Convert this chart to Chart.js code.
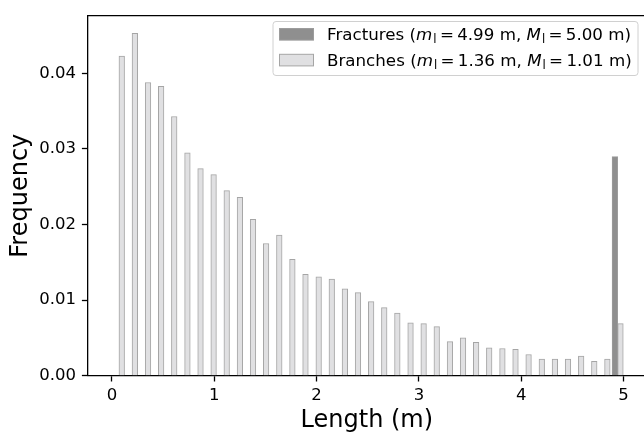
<!DOCTYPE html>
<html>
<head>
<meta charset="utf-8">
<script src="https://cdn.jsdelivr.net/npm/chart.js@4.4.1/dist/chart.umd.min.js"></script>
<style>
  html, body { margin: 0; padding: 0; overflow: hidden; background: #fff; }
  #wrap { width: 650px; height: 433px; }
</style>
</head>
<body>
<div id="wrap"><canvas id="histChart" width="650" height="433"></canvas></div>
<script>
// bin centres of the length histogram (m)
const binCenters = [0.068, 0.196, 0.325, 0.453, 0.581, 0.710, 0.838, 0.966, 1.094, 1.223,
  1.351, 1.479, 1.608, 1.736, 1.864, 1.993, 2.121, 2.249, 2.377, 2.506,
  2.634, 2.762, 2.891, 3.019, 3.147, 3.276, 3.404, 3.532, 3.660, 3.789,
  3.917, 4.045, 4.174, 4.302, 4.430, 4.559, 4.687, 4.815, 4.943];

const fractureFreq = [0, 0, 0, 0, 0, 0, 0, 0, 0, 0,
  0, 0, 0, 0, 0, 0, 0, 0, 0, 0,
  0, 0, 0, 0, 0, 0, 0, 0, 0, 0,
  0, 0, 0, 0, 0, 0, 0, 0, 0.0290];

const branchFreq = [0.0423, 0.0453, 0.0388, 0.0383, 0.0343, 0.0295, 0.0274, 0.0266, 0.0245, 0.0236,
  0.0207, 0.0175, 0.0186, 0.0154, 0.0134, 0.0131, 0.0128, 0.0115, 0.0110, 0.0098,
  0.0090, 0.0083, 0.0070, 0.0069, 0.0065, 0.0045, 0.0050, 0.0044, 0.0037, 0.0036,
  0.0035, 0.0028, 0.0022, 0.0022, 0.0022, 0.0026, 0.0019, 0.0022, 0.0069];

const xTicks = [0, 1, 2, 3, 4, 5];
const yTicks = [0, 0.01, 0.02, 0.03, 0.04];

const legendRows = [
  { name: 'Fractures', mean: '4.99', median: '5.00', fill: '#8f8f8f', edge: '#9c9c9c' },
  { name: 'Branches', mean: '1.36', median: '1.01', fill: '#e0e0e2', edge: '#a5a5a5' }
];

const FONT = '"DejaVu Sans", sans-serif';

function toPoints(values) {
  return binCenters.map((x, i) => ({ x: x, y: values[i] }));
}

// legend text with italic m / M and an upright subscript l, like mathtext
function drawLegendText(ctx, x, y, row) {
  const fs = 16.7;
  const reg = fs + 'px ' + FONT;
  const ital = 'italic ' + fs + 'px ' + FONT;
  const small = (fs * 0.7) + 'px ' + FONT;
  const gap = fs * 0.2;
  const parts = [
    { t: row.name + ' (', f: reg },
    { t: 'm', f: ital },
    { t: 'l', f: small, dy: 3, pre: 1 },
    { t: '=', f: reg, pre: gap },
    { t: row.mean, f: reg, pre: gap },
    { t: ' m, ', f: reg },
    { t: 'M', f: ital },
    { t: 'l', f: small, dy: 3, pre: 1 },
    { t: '=', f: reg, pre: gap },
    { t: row.median, f: reg, pre: gap },
    { t: ' m)', f: reg }
  ];
  ctx.fillStyle = '#000';
  ctx.textBaseline = 'alphabetic';
  ctx.textAlign = 'left';
  let cx = x;
  parts.forEach(p => {
    cx += p.pre || 0;
    ctx.font = p.f;
    ctx.fillText(p.t, cx, y + (p.dy || 0));
    cx += ctx.measureText(p.t).width;
  });
}

const framePlugin = {
  id: 'frame',
  afterDraw(chart) {
    const { ctx, chartArea: a } = chart;
    ctx.save();
    ctx.strokeStyle = '#000';
    ctx.lineWidth = 1.3;
    ctx.beginPath();
    ctx.moveTo(a.left, a.top);
    ctx.lineTo(a.right, a.top);
    ctx.lineTo(a.right, a.bottom);
    ctx.stroke();

    // legend box
    const bx = 273, by = 21.5, bw = 365, bh = 54;
    ctx.beginPath();
    ctx.roundRect(bx, by, bw, bh, 3);
    ctx.fillStyle = 'rgba(255,255,255,0.8)';
    ctx.fill();
    ctx.strokeStyle = '#d0d0d0';
    ctx.lineWidth = 1;
    ctx.stroke();

    legendRows.forEach((row, i) => {
      const cy = 34.3 + i * 25.8;
      ctx.fillStyle = row.fill;
      ctx.fillRect(279.5, cy - 5.8, 34, 11.6);
      ctx.strokeStyle = row.edge;
      ctx.lineWidth = 1;
      ctx.strokeRect(279.5, cy - 5.8, 34, 11.6);
      drawLegendText(ctx, 327, cy + 6, row);
    });
    ctx.restore();
  }
};

new Chart(document.getElementById('histChart'), {
  type: 'bar',
  data: {
    datasets: [
      {
        label: 'Fractures',
        data: toPoints(fractureFreq),
        backgroundColor: legendRows[0].fill,
        borderColor: legendRows[0].edge,
        borderWidth: 1,
        barThickness: 5.6
      },
      {
        label: 'Branches',
        data: toPoints(branchFreq),
        backgroundColor: legendRows[1].fill,
        borderColor: legendRows[1].edge,
        borderWidth: 1,
        barThickness: 5.6
      }
    ]
  },
  options: {
    responsive: false,
    animation: false,
    layout: { padding: { top: 11.7, right: 4, left: 0, bottom: 0 } },
    plugins: {
      legend: { display: false },
      tooltip: { enabled: false }
    },
    scales: {
      x: {
        type: 'linear',
        offset: false,
        min: -0.2375,
        max: 5.22,
        afterBuildTicks: axis => { axis.ticks = xTicks.map(v => ({ value: v })); },
        afterFit: axis => { axis.height = 57.3; },
        grid: { offset: false, drawOnChartArea: false, drawTicks: true, tickLength: 5.8, tickWidth: 1.3, tickColor: '#000' },
        border: { display: true, color: '#000', width: 1.3 },
        ticks: {
          color: '#000',
          padding: 4,
          maxRotation: 0,
          autoSkip: false,
          font: { family: FONT, size: 16.5 },
          callback: v => String(v)
        },
        title: {
          display: true,
          text: 'Length (m)',
          color: '#000',
          font: { family: FONT, size: 24, lineHeight: 1 },
          padding: { top: 0, bottom: 0 }
        }
      },
      y: {
        min: 0,
        max: 0.04764,
        afterBuildTicks: axis => { axis.ticks = yTicks.map(v => ({ value: v })); },
        afterFit: axis => { axis.width = 87.7; },
        grid: { drawOnChartArea: false, drawTicks: true, tickLength: 5.8, tickWidth: 1.3, tickColor: '#000' },
        border: { display: true, color: '#000', width: 1.3 },
        ticks: {
          color: '#000',
          padding: 5.8,
          autoSkip: false,
          font: { family: FONT, size: 16.5 },
          callback: v => v.toFixed(2)
        },
        title: {
          display: true,
          text: 'Frequency',
          color: '#000',
          font: { family: FONT, size: 24, lineHeight: 1 },
          padding: { top: 9, bottom: 0 }
        }
      }
    }
  },
  plugins: [framePlugin]
});
</script>
</body>
</html>
